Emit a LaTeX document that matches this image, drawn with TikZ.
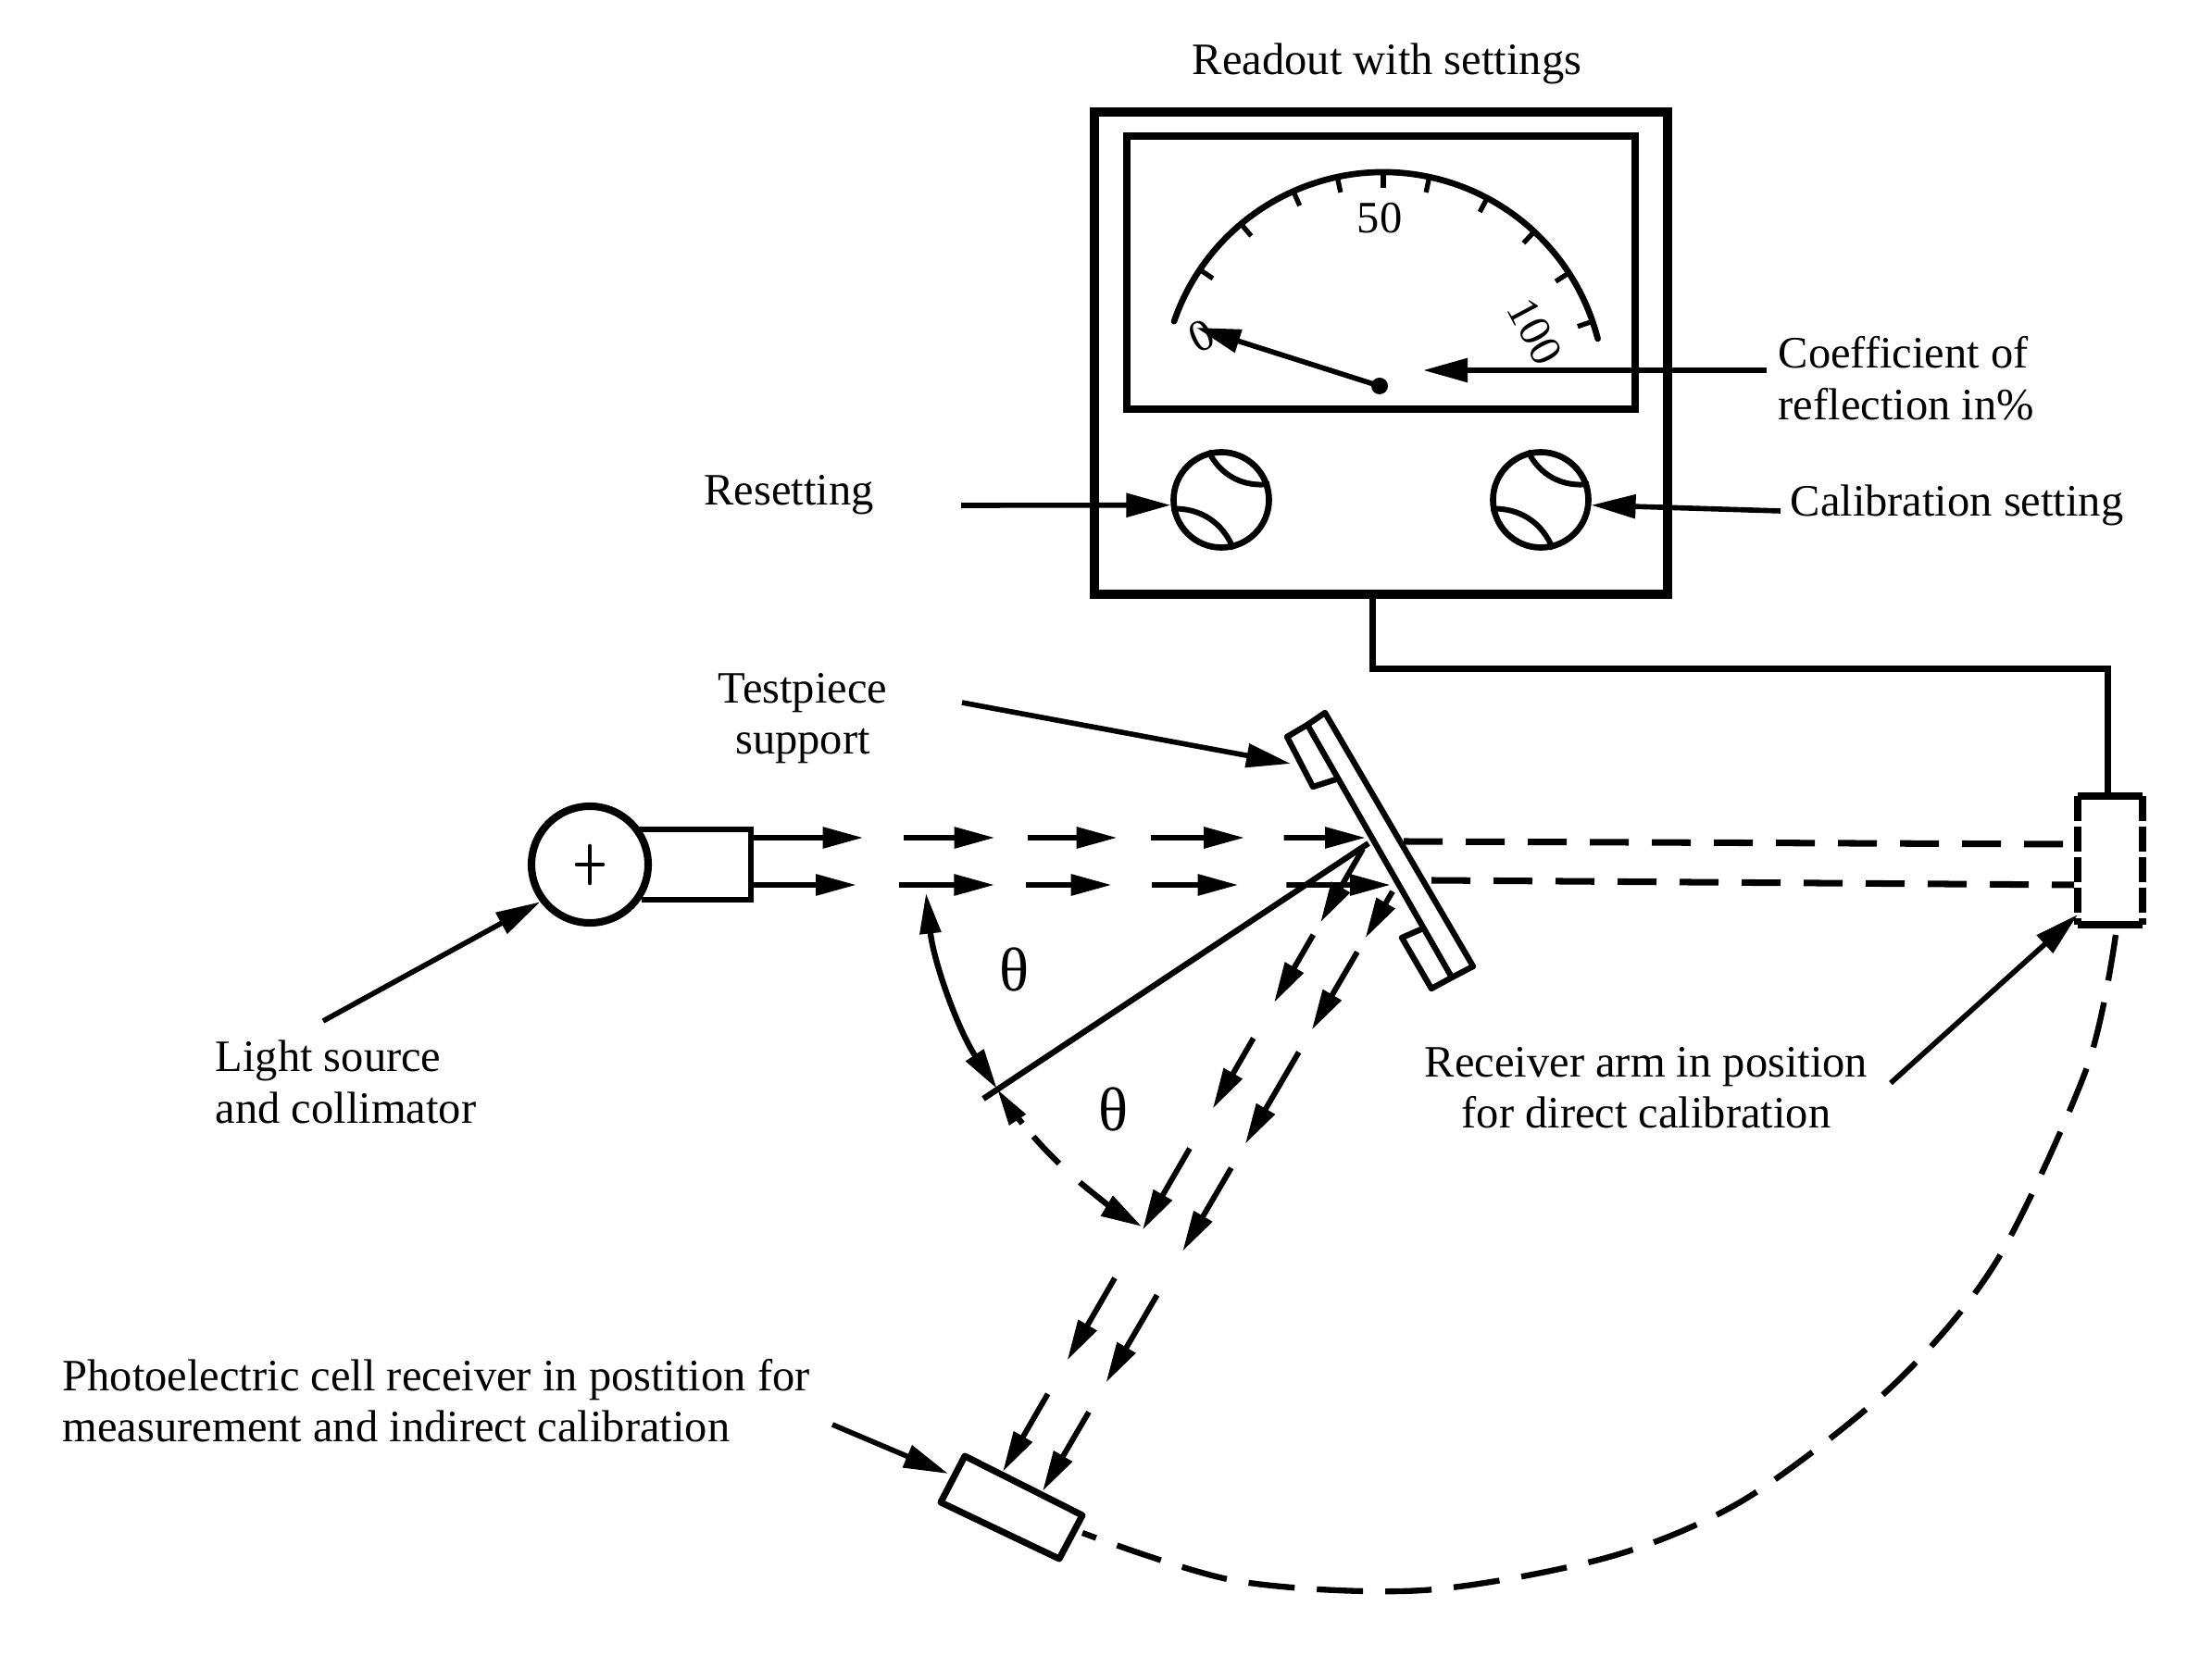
\documentclass[tikz,border=0pt]{standalone}
\usepackage{fontspec}
\setmainfont{Liberation Serif}
\usetikzlibrary{calc,arrows.meta}
\tikzset{
    lbl/.style={font=\fontsize{13.8}{15.8}\selectfont,inner sep=0pt},
    lead/.style={line width=1.6pt,-{Triangle[length=0.48cm,width=0.25cm]}},
    beam/.style={line width=1.7pt,-{Triangle[length=0.44cm,width=0.22cm]}},
    dashline/.style={line width=2pt,dash pattern=on 0.42cm off 0.25cm},
    knob/.style={draw,circle,line width=1.9pt,minimum size=1.03cm,inner sep=0pt},
}
\begin{document}
\begin{tikzpicture}
    \useasboundingbox (0,0) rectangle (23.89,17.89);

    % meter housing and dial
    \node [draw,line width=2.6pt,minimum width=6.19cm,minimum height=5.21cm] (meter) at (14.915,14.075) {};
    \node [draw,line width=2.4pt,minimum width=5.49cm,minimum height=2.95cm] (window) at (14.915,14.945) {};
    \coordinate (C) at (14.94,13.64);
    \draw [line width=1.9pt,line cap=round] ($(C)+(161:2.39)$) arc (161:14.3:2.39);
    \foreach \a in {146,130,114,102,90,78,62,47,33,19}
        \draw [line width=1.5pt] ($(C)+(\a:2.39)$) -- ($(C)+(\a:2.22)$);
    \node [lbl] (fifty) at (14.90,15.53) {50};
    \node [lbl,rotate=-62] (hundred) at (16.58,14.31) {100};
    \node [lbl,rotate=25] (zero) at (12.98,14.26) {0};
    \coordinate (P) at (14.90,13.72);
    \coordinate (T) at (12.92,14.35);
    \draw [lead] (P) -- (T);
    \fill (P) circle (0.09);

    % setting knobs
    \node [knob] (knobL) at (13.19,12.49) {};
    \node [knob] (knobR) at (16.64,12.49) {};
    \foreach \k in {knobL,knobR} {
        \draw [line width=1.7pt] (\k.105) to [bend right=35] (\k.18);
        \draw [line width=1.7pt] (\k.190) to [bend left=35] (\k.-76);
    }

    % receiver arm, direct position
    \node [minimum width=0.69cm,minimum height=1.37cm] (receiver) at (22.79,8.595) {};
    \draw [line width=2.2pt] (receiver.north west) -- (receiver.north east)
        (receiver.south west) -- (receiver.south east);
    \draw [line width=2.2pt,dash pattern=on 0.27cm off 0.06cm] (receiver.north west) -- (receiver.south west);
    \draw [line width=2.2pt,dash pattern=on 0.27cm off 0.06cm] (receiver.north east) -- (receiver.south east);
    \draw [line width=2pt] ([xshift=-0.09cm]meter.south) -- ++(0,-0.76) -| ([xshift=-0.03cm]receiver.north);

    % light source and collimator
    \node [draw,circle,line width=2.3pt,minimum size=1.26cm,inner sep=0pt] (source) at (6.37,8.55) {};
    \draw [line width=1.3pt,line cap=round] ($(source)+(-0.14,0)$) -- ($(source)+(0.14,0)$)
        ($(source)+(0,-0.2)$) -- ($(source)+(0,0.2)$);
    \coordinate (A1) at (6.86,8.93);
    \coordinate (A2) at (8.11,8.93);
    \coordinate (A3) at (8.11,8.17);
    \coordinate (A4) at (6.93,8.17);
    \draw [line width=1.9pt] (A1)--(A2)--(A3)--(A4);

    % testpiece support
    \coordinate (H1) at (14.31,10.19);
    \coordinate (H2) at (15.91,7.45);
    \coordinate (H3) at (15.68,7.33);
    \coordinate (H4) at (14.12,10.06);
    \draw [line width=1.8pt,line join=round] (H1)--(H2)--(H3)--(H4)--cycle;
    \draw [line width=1.8pt,line join=round] (H4)--(13.90,9.93)--(14.18,9.39)--(14.46,9.48);
    \draw [line width=1.8pt,line join=round] (15.37,7.86)--(15.14,7.76)--(15.46,7.21)--(H3);

    % incident beams
    \coordinate (S1) at (8.11,8.84);
    \coordinate (M1) at (14.75,8.84);
    \coordinate (S2) at (8.11,8.33);
    \coordinate (M2) at (15.02,8.33);
    \foreach \a/\b in {0/.183,.248/.397,.45/.596,.651/.803,.867/1}
        \draw [beam] ($(S1)!\a!(M1)$) -- ($(S1)!\b!(M1)$);
    \foreach \a/\b in {0/.165,.231/.381,.43/.564,.626/.762,.837/1}
        \draw [beam] ($(S2)!\a!(M2)$) -- ($(S2)!\b!(M2)$);

    % reflected beams
    \coordinate (R1) at (14.72,8.72);
    \coordinate (E1) at (10.83,1.99);
    \coordinate (R2) at (15.04,8.26);
    \coordinate (E2) at (11.26,1.78);
    \foreach \a/\b in {0/.118,.138/.247,.304/.417,.481/.612,.689/.821,.875/1}
        \draw [beam] ($(R1)!\a!(E1)$) -- ($(R1)!\b!(E1)$);
    \foreach \a/\b in {0/.078,.101/.231,.268/.421,.461/.6,.673/.819,.868/1}
        \draw [beam] ($(R2)!\a!(E2)$) -- ($(R2)!\b!(E2)$);

    % beams behind the support
    \coordinate (D1) at (15.16,8.80);
    \coordinate (D2) at (15.46,8.38);
    \draw [dashline] (D1) -- (22.40,8.77);
    \draw [dashline] (D2) -- (22.40,8.33);

    % angle of incidence
    \coordinate (O) at (14.78,8.78);
    \coordinate (N) at (10.62,6.02);
    \draw [line width=1.8pt] (O) -- (N);
    \draw [line width=1.8pt,{Triangle[length=0.44cm,width=0.22cm]}-{Triangle[length=0.44cm,width=0.22cm]}]
        ($(O)+(186.4:4.81)$) arc (186.4:213.5:4.81);
    \draw [line width=1.8pt,{Triangle[length=0.4cm,width=0.2cm]}-] ($(O)+(213.5:4.81)$) arc (213.5:219:4.81);
    \draw [line width=1.8pt] ($(O)+(221.2:4.81)$) arc (221.2:226:4.81);
    \draw [line width=1.8pt,-{Triangle[length=0.44cm,width=0.24cm]}] ($(O)+(229.6:4.81)$) arc (229.6:239.4:4.81);
    \node [font=\fontsize{19}{20}\selectfont,inner sep=0pt] (t1) at (10.95,7.42) {θ};
    \node [font=\fontsize{19}{20}\selectfont,inner sep=0pt] (t2) at (12.02,5.91) {θ};

    % photoelectric cell and its swing
    \coordinate (Q1) at (10.42,2.16);
    \coordinate (Q2) at (11.69,1.52);
    \coordinate (Q3) at (11.44,1.05);
    \coordinate (Q4) at (10.16,1.66);
    \draw [line width=2pt,line join=round] (Q1)--(Q2)--(Q3)--(Q4)--cycle;
    \draw [line width=1.8pt,dash pattern=on 0.5cm off 0.24cm] plot [smooth] coordinates {
        (22.85,7.79) (22.54,6.36) (21.56,4.26) (20.43,2.91) (18.84,1.69)
        (17.38,1.07) (15.37,0.71) (13.36,0.81) (11.69,1.33)};

    % captions
    \node [lbl] (readout) at (14.98,17.20) {Readout with settings};
    \node [lbl] (resetting) at (8.52,12.54) {Resetting};
    \node [lbl,anchor=west,align=left] (coeff) at (19.20,13.80) {Coefficient of\\reflection in\%};
    \node [lbl,anchor=west] (calib) at (19.33,12.43) {Calibration setting};
    \node [lbl,align=center] (testpiece) at (8.67,10.13) {Testpiece\\support};
    \node [lbl,anchor=west,align=left] (light) at (2.32,6.20) {Light source\\and collimator};
    \node [lbl,align=center] (arm) at (17.78,6.14) {Receiver arm in position\\for direct calibration};
    \node [lbl,anchor=west,align=left] (photo) at (0.67,2.76) {Photoelectric cell receiver in postition for\\measurement and indirect calibration};

    % leaders
    \coordinate (L1) at (19.08,13.89);
    \coordinate (L2) at (15.37,13.89);
    \draw [lead] (L1) -- (L2);
    \coordinate (L3) at (10.38,12.43);
    \draw [lead] (L3) -- (knobL.186);
    \coordinate (L4) at (19.23,12.37);
    \draw [lead] (L4) -- (knobR.-6);
    \coordinate (L5) at (10.39,10.30);
    \coordinate (L6) at (13.94,9.64);
    \draw [lead] (L5) -- (L6);
    \coordinate (L7) at (3.49,6.86);
    \draw [lead] (L7) -- (source.217);
    \coordinate (L8) at (20.42,6.19);
    \coordinate (L9) at (22.44,8.01);
    \draw [lead] (L8) -- (L9);
    \coordinate (L10) at (8.99,2.50);
    \coordinate (L11) at (10.24,1.97);
    \draw [lead] (L10) -- (L11);
\end{tikzpicture}
\end{document}
